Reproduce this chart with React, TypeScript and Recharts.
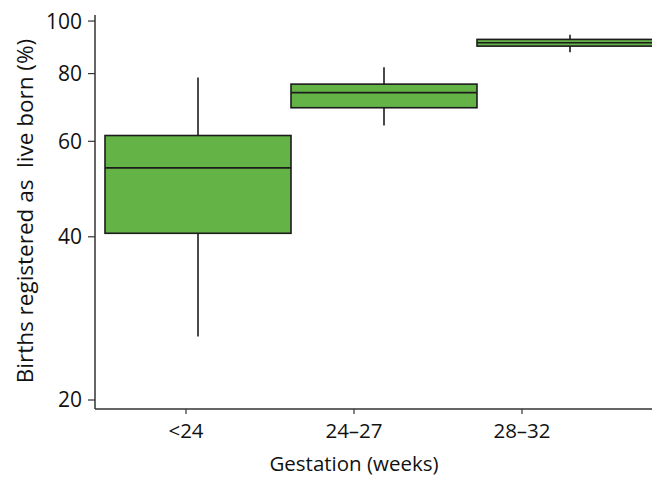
import React from "react";
import { ComposedChart, Bar, XAxis, YAxis } from "recharts";

const categories = ["<24", "24–27", "28–32"];
const q1Values = [40.6, 69.2, 89.9];
const medianValues = [53.6, 73.8, 91.2];
const q3Values = [61.5, 76.5, 92.5];
const minValues = [26.2, 64.2, 87.6];
const maxValues = [78.7, 82.2, 94.3];
const yTicks = [20, 40, 60, 80, 100];

const data = categories.map((c, i) => ({
  cat: c,
  q1: q1Values[i],
  median: medianValues[i],
  q3: q3Values[i],
  min: minValues[i],
  max: maxValues[i],
}));

const FONT = "'Open Sans', sans-serif";
const FILL = "#63b346";
const STROKE = "#1c1c1c";

const BoxShape = (props: any) => {
  const { x, y, width, height, payload } = props;
  const top = Math.min(y, y + height);
  const h = Math.abs(height);
  const lq3 = Math.log(payload.q3);
  const lq1 = Math.log(payload.q1);
  const k = h / (lq3 - lq1);
  const py = (v: number) => top + (lq3 - Math.log(v)) * k;
  const cx = x + width / 2;
  return (
    <g>
      <line x1={cx} x2={cx} y1={py(payload.max)} y2={py(payload.min)} stroke={STROKE} strokeWidth={1.6} />
      <rect x={x} y={top} width={width} height={h} fill={FILL} stroke={STROKE} strokeWidth={1.6} />
      <line x1={x} x2={x + width} y1={py(payload.median)} y2={py(payload.median)} stroke={STROKE} strokeWidth={1.6} />
    </g>
  );
};

export default function App() {
  return (
    <ComposedChart
      width={660}
      height={470}
      data={data}
      margin={{ top: 7, right: 5, bottom: 6, left: 0 }}
      barCategoryGap={0}
      barGap={0}
    >
      <XAxis
        xAxisId="boxes"
        dataKey="cat"
        type="category"
        hide
        height={0}
        padding={{ left: 10, right: 0 }}
      />
      <XAxis
        xAxisId="ticks"
        dataKey="cat"
        type="category"
        height={63}
        padding={{ left: 7, right: 57 }}
        tickSize={5}
        tickMargin={9}
        axisLine={{ stroke: "#333", strokeWidth: 1.5 }}
        tickLine={{ stroke: "#333", strokeWidth: 1.2 }}
        tick={{ fill: "#111", fontSize: 20.5, fontFamily: FONT }}
        label={{
          content: (p: any) => {
            const vb = p.viewBox;
            return (
              <text
                x={vb.x + 7 + (vb.width - 64) / 2}
                y={vb.y + vb.height - 1}
                textAnchor="middle"
                fill="#111"
                fontSize={20.5}
                fontFamily={FONT}
              >
                Gestation (weeks)
              </text>
            );
          },
        }}
      />
      <YAxis
        scale="log"
        type="number"
        domain={[19.25, 102.6]}
        ticks={yTicks}
        allowDataOverflow
        width={87}
        tickSize={7}
        tickMargin={6}
        axisLine={{ stroke: "#333", strokeWidth: 1.5 }}
        tickLine={{ stroke: "#333", strokeWidth: 1.2 }}
        tick={{ fill: "#111", fontSize: 21, fontFamily: FONT }}
        label={{
          content: (p: any) => {
            const vb = p.viewBox;
            const lx = vb.x + 16;
            const ly = vb.y + vb.height / 2 - 1;
            return (
              <text
                x={lx}
                y={ly}
                transform={`rotate(-90, ${lx}, ${ly})`}
                textAnchor="middle"
                dominantBaseline="central"
                fill="#111"
                fontSize={22.5}
                fontFamily={FONT}
                style={{ whiteSpace: "pre" }}
              >
                {"Births registered as  live born (%)"}
              </text>
            );
          },
        }}
      />
      <Bar
        xAxisId="boxes"
        dataKey={(d: any) => [d.q1, d.q3]}
        shape={BoxShape}
        isAnimationActive={false}
      />
    </ComposedChart>
  );
}
